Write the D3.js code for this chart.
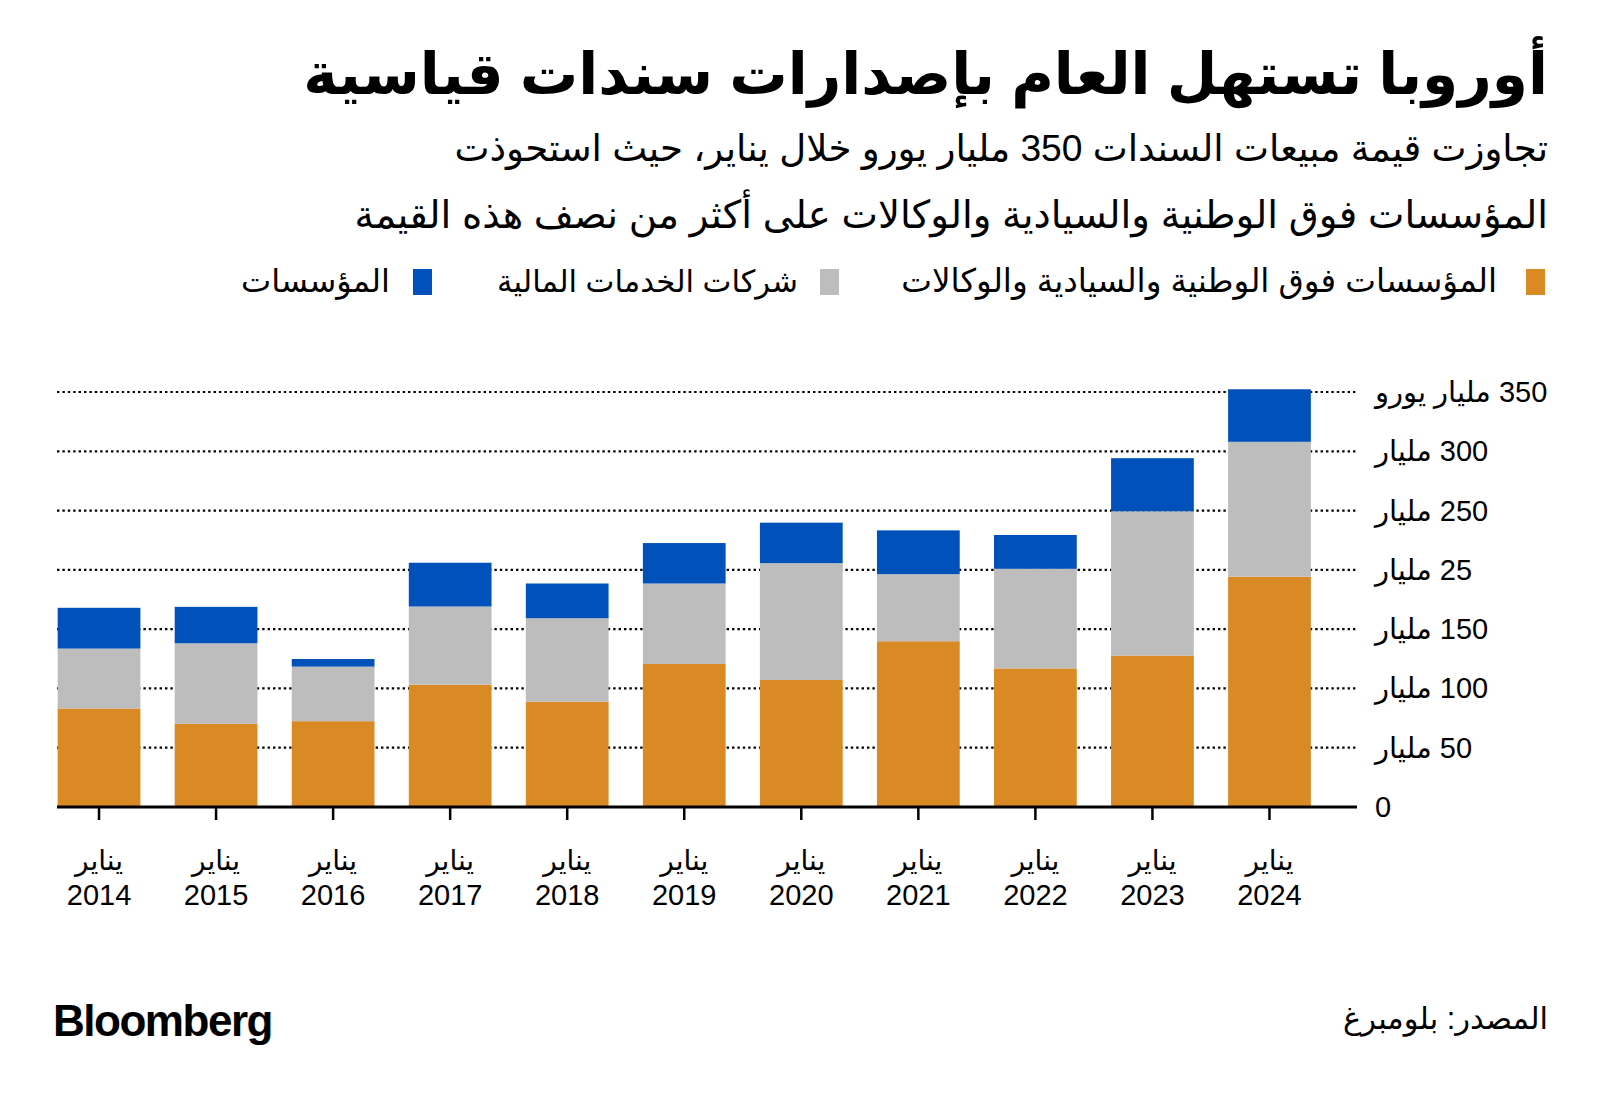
<!DOCTYPE html>
<html lang="ar">
<head>
<meta charset="utf-8">
<script src="https://cdn.jsdelivr.net/npm/d3@7"></script>
<style>
  html, body { margin: 0; padding: 0; background: #ffffff; }
  svg { display: block; }
  text { fill: #000; }
</style>
</head>
<body>
<svg id="chart" width="1600" height="1100"></svg>
<script>
// ---- Data ----
const years = ["2014","2015","2016","2017","2018","2019","2020","2021","2022","2023","2024"];
const monthLabel = "يناير";
const supranational = [83.1, 70.2, 72.4, 103.1, 88.8, 120.6, 107.1, 139.8, 116.9, 127.7, 194.2];
const financials    = [50.5, 67.9, 46.0, 66.0, 70.4, 67.9, 98.6, 56.6, 84.0, 121.7, 113.8];
const corporates    = [34.4, 30.7, 6.4, 36.9, 29.3, 34.1, 34.1, 36.9, 28.5, 44.8, 44.3];
const seriesKeys  = ["supranational", "financials", "corporates"];
const seriesNames = ["المؤسسات فوق الوطنية والسيادية والوكالات", "شركات الخدمات المالية", "المؤسسات"];
const seriesColors = ["#DA8A25", "#BDBDBD", "#0051BA"];
const yTickValues = [0, 50, 100, 150, 200, 250, 300, 350];
const yTickLabels = ["0", "50 مليار", "100 مليار", "150 مليار", "25 مليار", "250 مليار", "300 مليار", "350 مليار يورو"];
const titleText = "أوروبا تستهل العام بإصدارات سندات قياسية";
const subtitleLines = [
  "تجاوزت قيمة مبيعات السندات 350 مليار يورو خلال يناير، حيث استحوذت",
  "المؤسسات فوق الوطنية والسيادية والوكالات على أكثر من نصف هذه القيمة"
];
const sourceText = "المصدر: بلومبرغ";
const brandText = "Bloomberg";

// ---- Layout ----
const FONT = "'Liberation Sans', 'DejaVu Sans', sans-serif";
const svg = d3.select("#chart");
const rightEdge = 1548;

const rows = years.map((y, i) => ({
  year: y,
  supranational: supranational[i],
  financials: financials[i],
  corporates: corporates[i]
}));
const stacked = d3.stack().keys(seriesKeys)(rows);

const x = d3.scaleBand().domain(years).range([40.5, 1328]).paddingInner(0.293).paddingOuter(0.1465);
const y = d3.scaleLinear().domain([0, 350]).range([807, 392]);
const color = d3.scaleOrdinal().domain(seriesKeys).range(seriesColors);

function fitWidth(t, size, target) {
  const w = t.node().getComputedTextLength();
  if (w > 0) t.attr("font-size", size * target / w);
}

function rtlText(g, txt, xPos, yPos, size, opts = {}) {
  const t = g.append("text")
    .attr("x", xPos).attr("y", yPos)
    .attr("direction", "rtl")
    .style("unicode-bidi", "embed")
    .attr("text-anchor", opts.anchor || "start")
    .attr("font-family", FONT)
    .attr("font-size", size)
    .attr("font-weight", opts.weight || "normal")
    .text(txt);
  if (opts.fit) fitWidth(t, size, opts.fit);
  return t;
}

// Title
rtlText(svg, titleText, rightEdge, 94, 62, { weight: "bold", fit: 1245 });
// Subtitle
rtlText(svg, subtitleLines[0], rightEdge, 161, 31, { fit: 1094 });
rtlText(svg, subtitleLines[1], rightEdge, 228, 31, { fit: 1194 });

// Legend
const legendItems = [
  { sqX: 1526, textRight: 1497, width: 596 },
  { sqX: 820, textRight: 798, width: 301 },
  { sqX: 413, textRight: 390, width: 149 }
];
const legend = svg.append("g");
seriesKeys.forEach((k, i) => {
  const it = legendItems[i];
  legend.append("rect")
    .attr("x", it.sqX).attr("y", 269).attr("width", 19).attr("height", 26)
    .attr("fill", color(k));
  rtlText(legend, seriesNames[i], it.textRight, 292, 28, { fit: it.width });
});

// Gridlines
const grid = svg.append("g");
grid.selectAll("line")
  .data(yTickValues.filter(v => v > 0))
  .join("line")
  .attr("x1", 57).attr("x2", 1357)
  .attr("y1", d => y(d)).attr("y2", d => y(d))
  .attr("stroke", "#000")
  .attr("stroke-width", 2.2)
  .attr("stroke-dasharray", "2.4,3");

// Bars
const barG = svg.append("g");
barG.selectAll("g")
  .data(stacked)
  .join("g")
  .attr("fill", d => color(d.key))
  .selectAll("rect")
  .data(d => d)
  .join("rect")
  .attr("x", d => x(d.data.year))
  .attr("width", x.bandwidth())
  .attr("y", d => y(d[1]))
  .attr("height", d => y(d[0]) - y(d[1]));

// Baseline
svg.append("line")
  .attr("x1", 57).attr("x2", 1357)
  .attr("y1", y(0)).attr("y2", y(0))
  .attr("stroke", "#000").attr("stroke-width", 3);

// X axis ticks and labels
const xAxis = svg.append("g");
years.forEach(yr => {
  const cx = x(yr) + x.bandwidth() / 2;
  xAxis.append("line")
    .attr("x1", cx).attr("x2", cx)
    .attr("y1", y(0)).attr("y2", y(0) + 13)
    .attr("stroke", "#000").attr("stroke-width", 2.5);
  rtlText(xAxis, monthLabel, cx, 870, 28, { anchor: "middle" });
  xAxis.append("text")
    .attr("x", cx).attr("y", 905)
    .attr("text-anchor", "middle")
    .attr("font-family", FONT)
    .attr("font-size", 29)
    .text(yr);
});

// Y axis labels
const yAxis = svg.append("g");
yTickValues.forEach((v, i) => {
  rtlText(yAxis, yTickLabels[i], 1375, y(v) + 10, 29, { anchor: "end" });
});

// Footer
const brand = svg.append("text")
  .attr("x", 53).attr("y", 1036)
  .attr("font-family", "'Liberation Sans', Arial, sans-serif")
  .attr("font-weight", "bold")
  .attr("font-size", 44)
  .attr("letter-spacing", -1.5)
  .text(brandText);
fitWidth(brand, 44, 219);
rtlText(svg, sourceText, rightEdge, 1029, 28, { fit: 205 });
</script>
</body>
</html>
